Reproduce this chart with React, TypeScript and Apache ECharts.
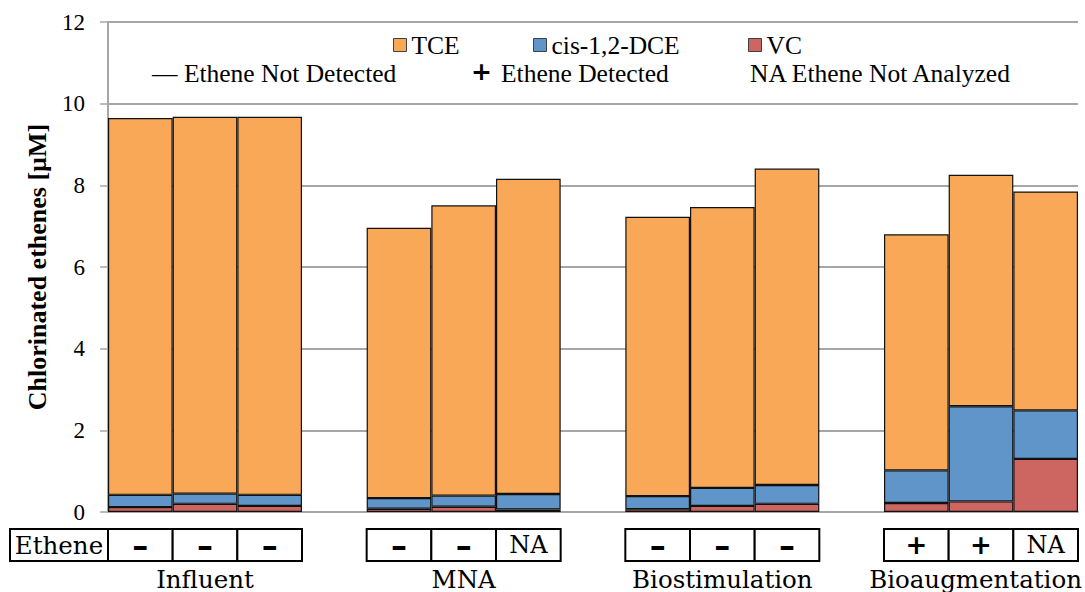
import React, { useEffect, useRef } from "react";
import * as echarts from "echarts";

// Treatment groups, three replicate columns each
const groups = ["Influent", "MNA", "Biostimulation", "Bioaugmentation"];

// Concentrations in µM, stacked bottom to top: VC, cis-1,2-DCE, TCE
const vcValues = [
  [0.12, 0.2, 0.15],
  [0.08, 0.13, 0.06],
  [0.07, 0.15, 0.2],
  [0.22, 0.26, 1.3],
];
const dceValues = [
  [0.3, 0.25, 0.27],
  [0.26, 0.27, 0.38],
  [0.32, 0.44, 0.46],
  [0.8, 2.33, 1.19],
];
const tceValues = [
  [9.23, 9.23, 9.26],
  [6.62, 7.11, 7.72],
  [6.84, 6.88, 7.75],
  [5.78, 5.67, 5.36],
];

// Ethene status per column: – not detected, + detected, NA not analyzed
const etheneStatus = [
  ["–", "–", "–"],
  ["–", "–", "NA"],
  ["–", "–", "–"],
  ["+", "+", "NA"],
];

const seriesNames = ["VC", "cis-1,2-DCE", "TCE"];
const seriesColors = ["#CD6560", "#5F95C9", "#F9A857"];

const yMin = 0;
const yMax = 12;
const yInterval = 2;

const SERIF = "'Liberation Serif', 'Times New Roman', serif";
const WIDE_SERIF = "'DejaVu Serif', serif";
const BOLD_SANS = "'DejaVu Sans', sans-serif";
const GRID_LEFT = 108;
const GRID_RIGHT = 7;
const GRID_TOP = 22;
const GRID_BOTTOM = 80;
const AXIS_GREY = "#A6A6A6";
const KEY_FONT = 25.5;

// Flatten groups into category slots with an empty slot between groups
const categories: string[] = [];
const groupCats: string[][] = [];
const flat = (src: number[][]) => {
  const out: (number | null)[] = [];
  src.forEach((g, gi) => {
    g.forEach((v) => out.push(v));
    if (gi < src.length - 1) out.push(null);
  });
  return out;
};
groups.forEach((g, gi) => {
  const names: string[] = [];
  for (let k = 0; k < 3; k++) {
    const n = `${g} ${k + 1}`;
    categories.push(n);
    names.push(n);
  }
  groupCats.push(names);
  if (gi < groups.length - 1) categories.push(`gap ${gi + 1}`);
});

const stackData = [flat(vcValues), flat(dceValues), flat(tceValues)];

export default function App() {
  const ref = useRef<HTMLDivElement>(null);

  useEffect(() => {
    if (!ref.current) return;
    const chart = echarts.init(ref.current, undefined, { renderer: "svg" });

    const legendBase = {
      orient: "horizontal" as const,
      top: 32,
      padding: 0,
      itemWidth: 13,
      itemHeight: 13,
      itemGap: 0,
      icon: "rect",
      selectedMode: false,
      itemStyle: { borderColor: "#404040", borderWidth: 1 },
      textStyle: {
        fontFamily: SERIF,
        fontSize: KEY_FONT,
        lineHeight: 24,
        color: "#000",
      },
    };

    chart.setOption({
      animation: false,
      backgroundColor: "#fff",
      grid: {
        left: GRID_LEFT,
        right: GRID_RIGHT,
        top: GRID_TOP,
        bottom: GRID_BOTTOM,
      },
      legend: [
        { ...legendBase, left: 393, data: ["TCE"] },
        { ...legendBase, left: 533, data: ["cis-1,2-DCE"] },
        { ...legendBase, left: 748, data: ["VC"] },
      ],
      xAxis: {
        type: "category",
        data: categories,
        axisLabel: { show: false },
        axisTick: { show: false },
        axisLine: { lineStyle: { color: AXIS_GREY, width: 2 } },
      },
      yAxis: {
        type: "value",
        min: yMin,
        max: yMax,
        interval: yInterval,
        name: "Chlorinated ethenes [µM]",
        nameLocation: "middle",
        nameGap: 58,
        nameTextStyle: {
          fontFamily: SERIF,
          fontSize: 26,
          fontWeight: "bold",
          color: "#000",
        },
        axisLine: { show: true, lineStyle: { color: AXIS_GREY, width: 2 } },
        axisTick: {
          show: true,
          inside: false,
          length: 8,
          lineStyle: { color: AXIS_GREY, width: 1.5 },
        },
        axisLabel: {
          margin: 23,
          fontFamily: SERIF,
          fontSize: 23,
          color: "#000",
        },
        splitLine: { lineStyle: { color: AXIS_GREY, width: 2 } },
      },
      series: seriesNames.map((name, i) => ({
        name,
        type: "bar",
        stack: "total",
        barCategoryGap: "0%",
        barGap: "0%",
        data: stackData[i],
        itemStyle: {
          color: seriesColors[i],
          borderColor: "#111",
          borderWidth: 1.2,
        },
      })),
    });

    // Ethene status table and group labels, placed from the category scale
    const px = (cat: string) =>
      chart.convertToPixel({ xAxisIndex: 0 }, cat) as number;
    const slot = px(categories[1]) - px(categories[0]);
    const rowTop = 529;
    const rowH = 32;
    const rowMid = rowTop + rowH / 2;

    const graphics: any[] = [];
    graphics.push({
      type: "rect",
      shape: { x: 10, y: rowTop, width: GRID_LEFT - 10, height: rowH },
      style: { fill: "#fff", stroke: "#000", lineWidth: 2 },
    });
    graphics.push({
      type: "text",
      x: (10 + GRID_LEFT) / 2,
      y: rowMid,
      style: {
        text: "Ethene",
        fontFamily: WIDE_SERIF,
        fontSize: 24.5,
        fill: "#000",
        align: "center",
        verticalAlign: "middle",
      },
    });

    groupCats.forEach((cats, gi) => {
      cats.forEach((c, k) => {
        const cx = px(c);
        graphics.push({
          type: "rect",
          shape: { x: cx - slot / 2, y: rowTop, width: slot, height: rowH },
          style: { fill: "#fff", stroke: "#000", lineWidth: 2 },
        });
        const s = etheneStatus[gi][k];
        const isNA = s === "NA";
        graphics.push({
          type: "text",
          x: cx,
          y: rowMid + (s === "–" ? 1 : 0),
          style: {
            text: s,
            fontFamily: isNA ? WIDE_SERIF : BOLD_SANS,
            fontWeight: isNA ? "normal" : "bold",
            fontSize: isNA ? 24 : s === "+" ? 26 : 32,
            fill: "#000",
            align: "center",
            verticalAlign: "middle",
          },
        });
      });
      // Group name under its three columns; the last one is kept inside the edge
      const isLast = gi === groups.length - 1;
      graphics.push({
        type: "text",
        x: isLast ? 1082 : px(cats[1]),
        y: 579,
        style: {
          text: groups[gi],
          fontFamily: WIDE_SERIF,
          fontSize: 24.5,
          fill: "#000",
          align: isLast ? "right" : "center",
          verticalAlign: "middle",
        },
      });
    });

    // Second legend row: ethene status symbols
    const keyStyle = {
      fontFamily: SERIF,
      fontSize: KEY_FONT,
      lineHeight: 24,
      fill: "#000",
      verticalAlign: "middle" as const,
    };
    graphics.push({
      type: "text",
      x: 152,
      y: 73,
      style: { ...keyStyle, text: "— Ethene Not Detected" },
    });
    graphics.push({
      type: "text",
      x: 471,
      y: 71,
      style: {
        ...keyStyle,
        text: "+",
        fontFamily: BOLD_SANS,
        fontWeight: "bold",
        fontSize: 25,
      },
    });
    graphics.push({
      type: "text",
      x: 501,
      y: 73,
      style: { ...keyStyle, text: "Ethene Detected" },
    });
    graphics.push({
      type: "text",
      x: 750,
      y: 73,
      style: { ...keyStyle, text: "NA Ethene Not Analyzed" },
    });

    chart.setOption({ graphic: graphics });

    return () => chart.dispose();
  }, []);

  return (
    <div
      ref={ref}
      style={{ position: "absolute", left: 0, top: 0, width: 1085, height: 592 }}
    />
  );
}
